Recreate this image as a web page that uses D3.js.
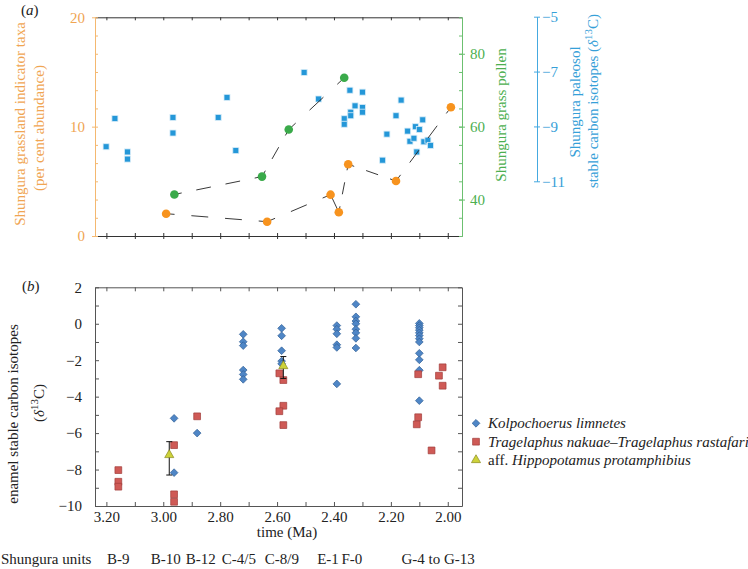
<!DOCTYPE html>
<html><head><meta charset="utf-8">
<script src="https://cdn.jsdelivr.net/npm/d3@7"></script>
</head><body style="margin:0;background:#fff">
<svg id="c" width="748" height="569" style="font-family:'Liberation Serif',serif;font-size:15px"></svg>
<script>
// ---------- DATA ----------
// panel (a)
const grassTaxaTime = [2.99, 2.635, 2.412, 2.383, 2.35, 2.182, 1.989];
const grassTaxaPct  = [2.04, 1.31, 3.78, 2.17, 6.56, 5.03, 11.77];
const pollenTime = [2.961, 2.653, 2.559, 2.364];
const pollenPct  = [41.4, 46.3, 59.2, 73.4];
const paleosolTime = [3.201, 3.170, 3.126, 3.126, 2.966, 2.966, 2.807, 2.776, 2.745,
  2.505, 2.454, 2.364, 2.364, 2.344, 2.341, 2.341, 2.326, 2.300, 2.300, 2.300,
  2.229, 2.214, 2.182, 2.164, 2.141, 2.133, 2.119, 2.114, 2.100, 2.088, 2.109, 2.084, 2.070, 2.061];
const paleosolD13C = [-9.74, -8.71, -9.93, -10.19, -8.67, -9.24, -8.67, -7.94, -9.88,
  -7.03, -8.00, -8.72, -8.92, -7.68, -8.48, -8.61, -8.25, -7.75, -8.31, -8.48,
  -10.23, -9.28, -8.61, -8.04, -9.17, -9.54, -9.43, -9.01, -9.11, -8.76, -9.93, -9.56, -9.50, -9.69];
// panel (b)
const kolpoTime = [2.962, 2.962, 2.881,
  2.719, 2.719, 2.719, 2.719, 2.719, 2.719,
  2.584, 2.584, 2.584, 2.584, 2.584,
  2.390, 2.390, 2.390, 2.390, 2.390, 2.390,
  2.323, 2.323, 2.323, 2.323, 2.323, 2.323, 2.323, 2.323,
  2.100, 2.100, 2.100, 2.100, 2.100, 2.100, 2.100, 2.100, 2.100, 2.100, 2.100, 2.100];
const kolpoD13C = [-5.19, -8.17, -6.0,
  -0.58, -0.99, -1.2, -2.54, -2.78, -3.05,
  -0.25, -0.66, -1.48, -2.05, -2.2,
  -0.1, -0.3, -0.55, -1.15, -1.3, -3.3,
  1.07, 0.38, 0.15, 0.0, -0.3, -0.5, -0.8, -1.33,
  0.02, -0.1, -0.22, -0.35, -0.5, -0.65, -0.82, -1.0, -1.62, -1.98, -2.55, -4.22];
const tragTime = [3.158, 3.158, 3.158, 2.962, 2.962, 2.962, 2.881,
  2.592, 2.578, 2.578, 2.592, 2.578, 2.104, 2.104, 2.109, 2.018, 2.031, 2.018, 2.057];
const tragD13C = [-8.03, -8.67, -8.94, -6.66, -9.36, -9.77, -5.08,
  -2.72, -3.09, -4.5, -4.8, -5.56, -2.77, -5.13, -5.52, -2.39, -2.85, -3.4, -6.95];
const hippoTime = [2.979, 2.578];
const hippoD13C = [-7.2, -2.32];
const hippoLow  = [-8.3, -3.0];
const hippoHigh = [-6.47, -1.8];
// ticks / labels
const timeMajorTicks = [3.2, 3.0, 2.8, 2.6, 2.4, 2.2, 2.0];
const timeMinorTicks = [3.2, 3.1, 3.0, 2.9, 2.8, 2.7, 2.6, 2.5, 2.4, 2.3, 2.2, 2.1, 2.0];
const unitNames = ["B-9", "B-10", "B-12", "C-4/5", "C-8/9", "E-1", "F-0", "G-4 to G-13"];
const unitTimes = [3.158, 2.991, 2.868, 2.734, 2.583, 2.421, 2.337, 2.034];
const legendNames = ["Kolpochoerus limnetes", "Tragelaphus nakuae–Tragelaphus rastafari", "Hippopotamus protamphibius"];

// ---------- STYLE ----------
const FONT = '"Liberation Serif", "Times New Roman", serif';
const C = {orange:"#f7931e", orangeTxt:"#f0a552", orangeAx:"#f4b870", green:"#3aaa4a", greenTxt:"#4caf50", greenAx:"#6cc070",
  blue:"#2497d8", blueAx:"#45a9e0", blueTxt:"#36a0d8", kolpo:"#4f86c6", kolpoS:"#2f5f95", trag:"#cf5a56", tragS:"#a03c3a", hippo:"#cdd23a", hippoS:"#8a8a20"};

const svg = d3.select("#c");
const x = d3.scaleLinear().domain([3.24, 1.95]).range([95, 462]);
const yA = d3.scaleLinear().domain([0, 20]).range([236, 17.3]);
const yG = d3.scaleLinear().domain([30, 90]).range([236, 17.3]);
const yB = d3.scaleLinear().domain([-11, -5]).range([181.3, 16.7]);
const yE = d3.scaleLinear().domain([-10, 2]).range([506, 287.3]);

function styleAxis(g, col, txtCol) {
  g.attr("font-family", null).attr("font-size", null);
  g.selectAll("path.domain").attr("stroke", col);
  g.selectAll(".tick line").attr("stroke", col);
  g.selectAll(".tick text").attr("fill", txtCol);
}

// ===== PANEL (a) =====
const axTopA = svg.append("g").attr("transform", "translate(0,17.3)")
  .call(d3.axisTop(x).tickValues(timeMinorTicks).tickSize(-3).tickSizeOuter(0).tickFormat(""));
styleAxis(axTopA, "#333", "#333");
const axBotA = svg.append("g").attr("transform", "translate(0,236)")
  .call(d3.axisBottom(x).tickValues(timeMinorTicks).tickSize(3).tickSizeOuter(0).tickFormat(""));
styleAxis(axBotA, "#333", "#333");
svg.append("g").attr("transform", "translate(0,236)")
  .call(d3.axisTop(x).tickValues(timeMinorTicks).tickSize(3).tickSizeOuter(0).tickFormat(""))
  .call(g => { g.select(".domain").remove(); g.selectAll("line").attr("stroke", "#333"); });

// left orange axis
const leftMinor = d3.range(0, 13).map(i => i * 10 / 6);
svg.append("g").attr("transform", "translate(95,0)")
  .call(d3.axisRight(yA).tickValues(leftMinor).tickSize(3).tickSizeOuter(0).tickFormat(""))
  .call(g => styleAxis(g, C.orangeAx, C.orangeTxt));
svg.append("g").attr("transform", "translate(95,0)")
  .call(d3.axisLeft(yA).tickValues([0, 10, 20]).tickSize(3).tickPadding(7).tickSizeOuter(0))
  .call(g => styleAxis(g, C.orangeAx, C.orangeTxt));

// right green axis
svg.append("g").attr("transform", "translate(462,0)")
  .call(d3.axisLeft(yG).tickValues(d3.range(30, 91, 5)).tickSize(3).tickSizeOuter(0).tickFormat(""))
  .call(g => styleAxis(g, C.greenAx, C.greenTxt));
svg.append("g").attr("transform", "translate(462,0)")
  .call(d3.axisRight(yG).tickValues([40, 60, 80]).tickSize(3).tickPadding(5).tickSizeOuter(0))
  .call(g => { styleAxis(g, C.greenAx, C.greenTxt); g.selectAll(".tick line").attr("x1", -3); });

// blue axis
svg.append("g").attr("transform", "translate(537,0)")
  .call(d3.axisRight(yB).tickValues([-5, -7, -9, -11]).tickSize(3).tickPadding(2).tickSizeOuter(0)
    .tickFormat(d => "\u2212" + Math.abs(d)))
  .call(g => { styleAxis(g, C.blueAx, C.blueTxt); g.selectAll(".tick line").attr("x1", -3); });

// titles panel a
function rotTitle(xb, yc, col) {
  return svg.append("text").attr("transform", `translate(${xb},${yc}) rotate(-90)`)
    .attr("text-anchor", "middle").attr("fill", col);
}
rotTitle(25, 124, C.orangeTxt).text("Shungura grassland indicator taxa");
rotTitle(44, 128, C.orangeTxt).text("(per cent abundance)");
rotTitle(506, 115, C.greenTxt).text("Shungura grass pollen");
rotTitle(580, 102, C.blueTxt).text("Shungura paleosol");
{
  const t = rotTitle(598, 101, C.blueTxt);
  t.append("tspan").text("stable carbon isotopes (");
  t.append("tspan").attr("font-style", "italic").text("\u03b4");
  t.append("tspan").attr("dy", -6).attr("font-size", "11px").text("13");
  t.append("tspan").attr("dy", 6).text("C)");
}
{
  const t = svg.append("text").attr("x", 21).attr("y", 15).attr("fill", "#222");
  t.append("tspan").text("(");
  t.append("tspan").attr("font-style", "italic").text("a");
  t.append("tspan").text(")");
}

// paleosol squares
svg.append("g").selectAll("rect").data(paleosolTime).join("rect")
  .attr("x", (d, i) => x(d) - 3).attr("y", (d, i) => yB(paleosolD13C[i]) - 3)
  .attr("width", 6).attr("height", 6).attr("fill", C.blue).attr("stroke", "#d6ecf8").attr("stroke-width", 0.8);

// dashed connectors
function dashedPath(times, vals, ys) {
  const pts = times.map((t, i) => [x(t), ys(vals[i])]);
  for (let i = 0; i < pts.length - 1; i++) {
    const [x1, y1] = pts[i], [x2, y2] = pts[i + 1];
    const L = Math.hypot(x2 - x1, y2 - y1);
    const ln = svg.append("line").attr("x1", x1).attr("y1", y1).attr("x2", x2).attr("y2", y2)
      .attr("stroke", "#222").attr("stroke-width", 0.9);
    if (L > 30) {
      const k = Math.max(1, Math.round(L / 31));
      const d = L / (2 * k);
      ln.attr("stroke-dasharray", `${d},${d}`).attr("stroke-dashoffset", d / 2);
    }
  }
}
dashedPath(grassTaxaTime, grassTaxaPct, yA);
dashedPath(pollenTime, pollenPct, yG);

svg.append("g").selectAll("circle").data(pollenTime).join("circle")
  .attr("cx", d => x(d)).attr("cy", (d, i) => yG(pollenPct[i])).attr("r", 4.3).attr("fill", C.green);
svg.append("g").selectAll("circle").data(grassTaxaTime).join("circle")
  .attr("cx", d => x(d)).attr("cy", (d, i) => yA(grassTaxaPct[i])).attr("r", 4.3).attr("fill", C.orange);

// ===== PANEL (b) =====
const frame = "#555";
svg.append("g").attr("transform", "translate(0,287.3)")
  .call(d3.axisTop(x).tickValues(timeMinorTicks).tickSize(-4).tickSizeOuter(0).tickFormat(""))
  .call(g => styleAxis(g, frame, "#222"));
svg.append("g").attr("transform", "translate(0,506)")
  .call(d3.axisBottom(x).tickValues(timeMinorTicks).tickSize(-4).tickSizeOuter(0).tickFormat(""))
  .call(g => styleAxis(g, frame, "#222"));
svg.append("g").attr("transform", "translate(0,506)")
  .call(d3.axisBottom(x).tickValues(timeMajorTicks).tickSize(0).tickPadding(5).tickFormat(d3.format(".2f")))
  .call(g => { g.select(".domain").remove(); styleAxis(g, frame, "#222"); });
svg.append("g").attr("transform", "translate(95,0)")
  .call(d3.axisLeft(yE).tickValues(d3.range(-10, 3, 1)).tickSize(-4).tickSizeOuter(0).tickFormat(""))
  .call(g => styleAxis(g, frame, "#222"));
svg.append("g").attr("transform", "translate(95,0)")
  .call(d3.axisLeft(yE).tickValues(d3.range(-10, 3, 2)).tickSize(0).tickPadding(13)
    .tickFormat(d => d < 0 ? "\u2212" + Math.abs(d) : String(d)))
  .call(g => { g.select(".domain").remove(); styleAxis(g, frame, "#222"); });
svg.append("g").attr("transform", "translate(462,0)")
  .call(d3.axisRight(yE).tickValues(d3.range(-10, 3, 1)).tickSize(-4).tickSizeOuter(0).tickFormat(""))
  .call(g => styleAxis(g, frame, "#222"));

rotTitle(18, 414, "#222").text("enamel stable carbon isotopes");
{
  const t = rotTitle(44, 403, "#222");
  t.append("tspan").text("(");
  t.append("tspan").attr("font-style", "italic").text("\u03b4");
  t.append("tspan").attr("dy", -6).attr("font-size", "11px").text("13");
  t.append("tspan").attr("dy", 6).text("C)");
}
{
  const t = svg.append("text").attr("x", 22).attr("y", 291).attr("fill", "#222");
  t.append("tspan").text("(");
  t.append("tspan").attr("font-style", "italic").text("b");
  t.append("tspan").text(")");
}
svg.append("text").attr("x", 287).attr("y", 537).attr("text-anchor", "middle").attr("fill", "#222").text("time (Ma)");
svg.append("text").attr("x", 1).attr("y", 564).attr("fill", "#222").text("Shungura units");
svg.append("g").selectAll("text").data(unitNames).join("text")
  .attr("x", (d, i) => x(unitTimes[i])).attr("y", 564).attr("text-anchor", "middle").attr("fill", "#222").text(d => d);

const diamond = d3.symbol().type(d3.symbolDiamond2).size(38);
const square = d3.symbol().type(d3.symbolSquare).size(46);
const tri = d3.symbol().type(d3.symbolTriangle).size(36);

svg.append("g").selectAll("path").data(kolpoTime).join("path")
  .attr("transform", (d, i) => `translate(${x(d)},${yE(kolpoD13C[i])})`)
  .attr("d", diamond).attr("fill", C.kolpo).attr("stroke", C.kolpoS).attr("stroke-width", 0.7);
svg.append("g").selectAll("path").data(tragTime).join("path")
  .attr("transform", (d, i) => `translate(${x(d)},${yE(tragD13C[i])})`)
  .attr("d", square).attr("fill", C.trag).attr("stroke", C.tragS).attr("stroke-width", 0.7);
const eb = svg.append("g").attr("stroke", "#111").attr("stroke-width", 1);
hippoTime.forEach((t, i) => {
  const xc = x(t);
  eb.append("line").attr("x1", xc).attr("x2", xc).attr("y1", yE(hippoLow[i])).attr("y2", yE(hippoHigh[i]));
  eb.append("line").attr("x1", xc - 3).attr("x2", xc + 3).attr("y1", yE(hippoLow[i])).attr("y2", yE(hippoLow[i]));
  eb.append("line").attr("x1", xc - 3).attr("x2", xc + 3).attr("y1", yE(hippoHigh[i])).attr("y2", yE(hippoHigh[i]));
});
svg.append("g").selectAll("path").data(hippoTime).join("path")
  .attr("transform", (d, i) => `translate(${x(d)},${yE(hippoD13C[i])})`)
  .attr("d", tri).attr("fill", C.hippo).attr("stroke", C.hippoS).attr("stroke-width", 0.7);

// legend
const lg = svg.append("g").attr("transform", "translate(476,0)");
const rowsY = [423.3, 441.7, 460];
lg.append("path").attr("transform", `translate(0,${rowsY[0]})`).attr("d", diamond).attr("fill", C.kolpo).attr("stroke", C.kolpoS).attr("stroke-width", 0.7);
lg.append("path").attr("transform", `translate(0,${rowsY[1]})`).attr("d", square).attr("fill", C.trag).attr("stroke", C.tragS).attr("stroke-width", 0.7);
lg.append("path").attr("transform", `translate(0,${rowsY[2]})`).attr("d", tri).attr("fill", C.hippo).attr("stroke", C.hippoS).attr("stroke-width", 0.7);
lg.append("text").attr("x", 12).attr("y", rowsY[0] + 5).attr("font-style", "italic").attr("fill", "#222").text(legendNames[0]);
lg.append("text").attr("x", 12).attr("y", rowsY[1] + 5).attr("font-style", "italic").attr("fill", "#222").text(legendNames[1]);
{
  const t = lg.append("text").attr("x", 12).attr("y", rowsY[2] + 5).attr("fill", "#222");
  t.append("tspan").text("aff. ");
  t.append("tspan").attr("font-style", "italic").text(legendNames[2]);
}

// enforce the serif font on every text element
svg.selectAll("text").style("font-family", FONT).style("font-size", "15px");
</script>
</body></html>
